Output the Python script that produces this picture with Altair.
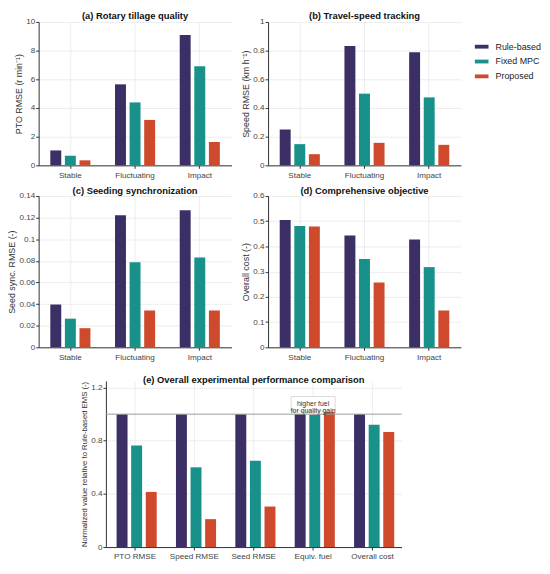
import altair as alt
import pandas as pd

# ---------------- data ----------------
scenarios = ["Stable", "Fluctuating", "Impact"]
strategies = ["Rule-based", "Fixed MPC", "Proposed"]
colors = ["#3b2f66", "#17918a", "#cf4a2d"]

pto_rule = [1.04, 5.65, 9.09]
pto_fixed = [0.67, 4.39, 6.91]
pto_prop = [0.35, 3.17, 1.63]

spd_rule = [0.25, 0.833, 0.789]
spd_fixed = [0.148, 0.50, 0.474]
spd_prop = [0.078, 0.157, 0.143]

seed_rule = [0.0396, 0.1223, 0.1269]
seed_fixed = [0.0265, 0.0788, 0.0831]
seed_prop = [0.0177, 0.0341, 0.0341]

cost_rule = [0.505, 0.443, 0.428]
cost_fixed = [0.481, 0.350, 0.318]
cost_prop = [0.479, 0.257, 0.146]

metrics = ["PTO RMSE", "Speed RMSE", "Seed RMSE", "Equiv. fuel", "Overall cost"]
norm_rule = [1.0, 1.0, 1.0, 1.0, 1.0]
norm_fixed = [0.765, 0.60, 0.65, 0.995, 0.92]
norm_prop = [0.415, 0.21, 0.305, 1.015, 0.865]

annot_cat = ["Equiv. fuel"]
annot_y = [1.078]
annot_text = [["higher fuel", "for quality gain"]]
ref_y = [1.0]

FONT = "Liberation Sans"


def long_df(cats, rule, fixed, prop, catname):
    rows = []
    for i, c in enumerate(cats):
        for s, v in zip(strategies, [rule[i], fixed[i], prop[i]]):
            rows.append({catname: c, "Strategy": s, "value": v})
    return pd.DataFrame(rows)


color_scale = alt.Scale(domain=strategies, range=colors)

LEG = alt.Legend(
    title=None,
    orient="none",
    legendX=441,
    legendY=18,
    offset=0,
    padding=0,
    symbolType="M-1,-0.28H1V0.28H-1Z",
    symbolSize=190,
    symbolStrokeWidth=0,
    labelFontSize=9,
    labelColor="#222",
    labelFont=FONT,
    rowPadding=3,
    labelOffset=7,
)


def panel(df, catname, cats, title, ytitle, ymax, ticks, w, h, ytitle_size=9):
    bars = alt.Chart(df).mark_bar().encode(
        x=alt.X(
            f"{catname}:N",
            sort=cats,
            title=None,
            scale=alt.Scale(paddingInner=0.38, paddingOuter=0.18),
            axis=alt.Axis(labelAngle=0, grid=True, bandPosition=0.5, tickBand="center"),
        ),
        xOffset=alt.XOffset("Strategy:N", sort=strategies,
                            scale=alt.Scale(paddingInner=0.25, paddingOuter=0.0)),
        y=alt.Y(
            "value:Q",
            title=ytitle,
            scale=alt.Scale(domain=[0, ymax], nice=False, zero=True),
            axis=alt.Axis(values=ticks, format="~r", titleFontSize=ytitle_size),
        ),
        color=alt.Color("Strategy:N", scale=color_scale, sort=strategies, legend=LEG),
    ).properties(width=w, height=h, title=title)
    return bars


df_a = long_df(scenarios, pto_rule, pto_fixed, pto_prop, "Scenario")
df_b = long_df(scenarios, spd_rule, spd_fixed, spd_prop, "Scenario")
df_c = long_df(scenarios, seed_rule, seed_fixed, seed_prop, "Scenario")
df_d = long_df(scenarios, cost_rule, cost_fixed, cost_prop, "Scenario")
df_e = long_df(metrics, norm_rule, norm_fixed, norm_prop, "Metric")

W = 195
H1, H2 = 145, 153
WE, HE = 299, 168

pa = panel(df_a, "Scenario", scenarios, "(a) Rotary tillage quality",
           "PTO RMSE (r min⁻¹)", 10, [0, 2, 4, 6, 8, 10], W, H1)
pb = panel(df_b, "Scenario", scenarios, "(b) Travel-speed tracking",
           "Speed RMSE (km h⁻¹)", 1, [0, 0.2, 0.4, 0.6, 0.8, 1], W, H1)
pc = panel(df_c, "Scenario", scenarios, "(c) Seeding synchronization",
           "Seed sync. RMSE (-)", 0.14, [0, 0.02, 0.04, 0.06, 0.08, 0.1, 0.12, 0.14], W, H2)
pd_ = panel(df_d, "Scenario", scenarios, "(d) Comprehensive objective",
            "Overall cost (-)", 0.6, [0, 0.1, 0.2, 0.3, 0.4, 0.5, 0.6], W, H2)

pe_bars = panel(df_e, "Metric", metrics, "(e) Overall experimental performance comparison",
                "Normalized value relative to Rule-based EMS (-)", 1.25,
                [0, 0.2, 0.4, 0.6, 0.8, 1, 1.2], WE, HE, ytitle_size=7.8)

ref = alt.Chart(pd.DataFrame({"y": ref_y})).mark_rule(color="#9a9a9a", strokeWidth=1).encode(
    y=alt.Y("y:Q")
)
annot_df = pd.DataFrame({"Metric": annot_cat, "y": annot_y, "t": annot_text})
box = alt.Chart(annot_df).mark_point(
    shape="M-1,-0.33H1V0.33H-1Z", size=1975, filled=True, fill="white",
    stroke="#d0d0d0", strokeWidth=0.8, opacity=1,
).encode(x=alt.X("Metric:N", sort=metrics), y=alt.Y("y:Q"))
txt = alt.Chart(annot_df).mark_text(
    fontSize=7.0, font=FONT, color="#333", lineHeight=7.6, baseline="middle",
).encode(x=alt.X("Metric:N", sort=metrics), y=alt.Y("y:Q"), text="t")

pe = alt.layer(pe_bars, ref, box, txt).properties(
    width=WE, height=HE,
    title="(e) Overall experimental performance comparison",
)

spacer = alt.Chart(pd.DataFrame({"a": [0]})).mark_point(opacity=0).encode(
    x=alt.X("a:Q", axis=None), y=alt.Y("a:Q", axis=None)
).properties(width=1, height=1)

row1 = alt.hconcat(pa, pb, spacing=10)
row2 = alt.hconcat(pc, pd_, spacing=10)
row3 = alt.hconcat(spacer, pe, spacing=38)

top = alt.vconcat(row1, row2, spacing=6)
chart = alt.vconcat(top, row3, spacing=14).properties(
    padding={"left": 0, "top": 0, "right": 0, "bottom": 0}
).configure(
    font=FONT,
).configure_view(
    stroke=None,
).configure_title(
    fontSize=9.5, fontWeight="bold", font=FONT, color="#111", offset=-4, anchor="middle",
).configure_axis(
    labelFont=FONT, titleFont=FONT, labelFontSize=8.2, titleFontSize=9,
    labelColor="#444", titleColor="#333", titleFontWeight="normal",
    domainColor="#333", tickColor="#333", tickSize=3,
    gridColor="#e8e8e8", gridWidth=0.8,
).configure_axisY(
    titlePadding=2, labelPadding=1,
).configure_axisX(
    labelPadding=3,
)

chart.save("out.html", embed_options={"renderer": "svg", "actions": False})
